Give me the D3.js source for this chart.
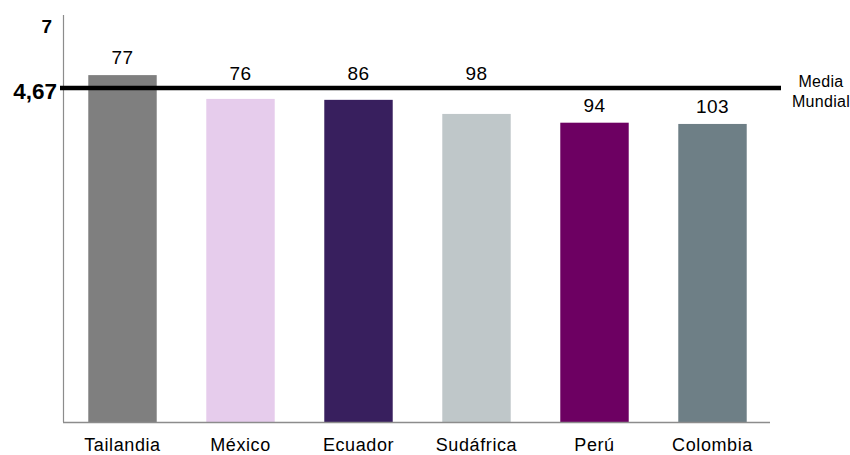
<!DOCTYPE html>
<html>
<head>
<meta charset="utf-8">
<script src="https://cdn.jsdelivr.net/npm/d3@7/dist/d3.min.js"></script>
<style>
html,body{margin:0;padding:0;background:#fff;overflow:hidden;}
svg{display:block;font-family:"Liberation Sans",Arial,sans-serif;}
</style>
</head>
<body>
<svg id="chart" width="850" height="455"></svg>
<script>
const categories = ["Tailandia","México","Ecuador","Sudáfrica","Perú","Colombia"];
const values = [5.08, 4.32, 4.29, 3.84, 3.56, 3.52];
const rankLabels = ["77","76","86","98","94","103"];
const colors = ["#7f7f7f","#e6ccec","#381f5e","#bfc7c9","#6d0062","#6e7f86"];
const worldMean = 4.67;
const worldMeanLabel = "4,67";
const yTopLabel = "7";
const meanText = ["Media","Mundial"];

const svg = d3.select("#chart");
const x = d3.scaleBand().domain(categories).range([63.5, 771.5]).paddingInner(0.42).paddingOuter(0.21);
const y = d3.scaleLinear().domain([-6, 7]).range([422, 15]);

// bars
svg.selectAll("rect.bar").data(categories).join("rect")
  .attr("class","bar")
  .attr("x", d => x(d))
  .attr("width", x.bandwidth())
  .attr("y", (d,i) => y(values[i]))
  .attr("height", (d,i) => y.range()[0] - y(values[i]))
  .attr("fill", (d,i) => colors[i]);

// axes lines
svg.append("line").attr("x1",63.5).attr("x2",63.5).attr("y1",y(7)).attr("y2",422)
  .attr("stroke","#8c8c8c").attr("stroke-width",1.2);
svg.append("line").attr("x1",63).attr("x2",770).attr("y1",422.5).attr("y2",422.5)
  .attr("stroke","#8c8c8c").attr("stroke-width",1.5);

// category labels
svg.selectAll("text.cat").data(categories).join("text")
  .attr("class","cat")
  .attr("x", d => x(d) + x.bandwidth()/2)
  .attr("y", 451)
  .attr("text-anchor","middle")
  .attr("font-size","18px")
  .attr("letter-spacing","0.6px")
  .attr("fill","#000")
  .text(d => d);

// mean line
const ym = y(worldMean);
svg.append("line").attr("x1",60).attr("x2",781).attr("y1",ym).attr("y2",ym)
  .attr("stroke","#000").attr("stroke-width",4.5);

// value labels
svg.selectAll("text.val").data(categories).join("text")
  .attr("class","val")
  .attr("x", d => x(d) + x.bandwidth()/2)
  .attr("y", (d,i) => {
    const b = y(values[i]) - 11;
    return (b - 14 < ym + 3) ? Math.min(b, ym - 8) : b;
  })
  .attr("text-anchor","middle")
  .attr("font-size","19px")
  .attr("letter-spacing","0.4px")
  .attr("fill","#000")
  .text((d,i) => rankLabels[i]);

// y labels
svg.append("text").attr("x",52).attr("y",33).attr("text-anchor","end")
  .attr("font-size","19px").attr("font-weight","bold").text(yTopLabel);
svg.append("text").attr("x",57).attr("y",99).attr("text-anchor","end")
  .attr("font-size","22.5px").attr("font-weight","bold").text(worldMeanLabel);

// Media Mundial
svg.selectAll("text.mm").data(meanText).join("text")
  .attr("class","mm")
  .attr("x", 821)
  .attr("y", (d,i) => 87 + i*19.5)
  .attr("text-anchor","middle")
  .attr("font-size","16px")
  .attr("letter-spacing","0.3px")
  .text(d => d);
</script>
</body>
</html>
